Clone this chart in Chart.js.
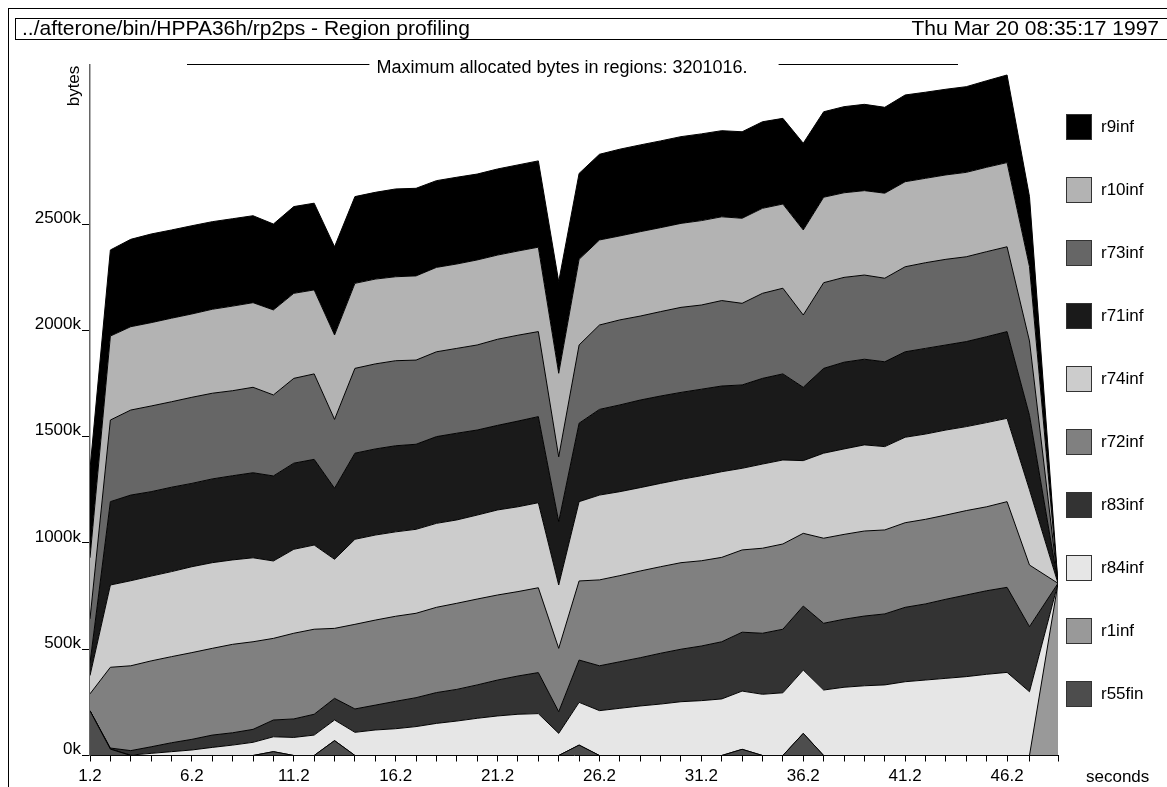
<!DOCTYPE html>
<html>
<head>
<meta charset="utf-8">
<title>rp2ps - Region profiling</title>
<script src="https://cdn.jsdelivr.net/npm/chart.js@4/dist/chart.umd.min.js"></script>
<style>
    html, body { margin: 0; padding: 0; background: #ffffff; }
    #chart { display: block; }
</style>
</head>
<body>
<canvas id="chart" width="1167" height="787"></canvas>
<script>
const JOB_TITLE = '../afterone/bin/HPPA36h/rp2ps - Region profiling';
const JOB_DATE = 'Thu Mar 20 08:35:17 1997';
const MAX_BYTES = 3201016;

// sample times (seconds)
const sampleTimes = [1.2, 2.2, 3.2, 4.2, 5.2, 6.2, 7.2, 8.2, 9.2, 10.2, 11.2, 12.2, 13.2, 14.2, 15.2, 16.2,
    17.2, 18.2, 19.2, 20.2, 21.2, 22.2, 23.2, 24.2, 25.2, 26.2, 27.2, 28.2, 29.2, 30.2, 31.2, 32.2,
    33.2, 34.2, 35.2, 36.2, 37.2, 38.2, 39.2, 40.2, 41.2, 42.2, 43.2, 44.2, 45.2, 46.2, 47.3, 48.7];

const xTickLabels = [1.2, 6.2, 11.2, 16.2, 21.2, 26.2, 31.2, 36.2, 41.2, 46.2];
const yTickValues = [0, 500, 1000, 1500, 2000, 2500];   // kbytes

// allocated kbytes per region at every sample
const r55fin = [210, 30, 0, 0, 0, 0, 0, 0, 0, 18, 0, 0, 70, 0, 0, 0, 0, 0, 0, 0, 0, 0, 0, 0,
    49, 0, 0, 0, 0, 0, 0, 0, 29, 0, 0, 104, 0, 0, 0, 0, 0, 0, 0, 0, 0, 0, 0, 0];
const r1inf = [0, 0, 0, 0, 0, 0, 0, 0, 0, 0, 0, 0, 0, 0, 0, 0, 0, 0, 0, 0, 0, 0, 0, 0,
    0, 0, 0, 0, 0, 0, 0, 0, 0, 0, 0, 0, 0, 0, 0, 0, 0, 0, 0, 0, 0, 0, 0, 810];
const r84inf = [0, 0, 2, 10, 18, 26, 38, 49, 62, 70, 85, 96, 97, 109, 120, 126, 136, 151, 162, 175, 186, 194, 197, 104,
    201, 211, 222, 233, 242, 253, 258, 266, 274, 288, 295, 298, 308, 321, 328, 332, 347, 355, 363, 371, 382, 391, 300, 0];
const r83inf = [0, 5, 21, 31, 42, 50, 58, 58, 61, 79, 87, 98, 102, 110, 117, 129, 136, 145, 149, 157, 169, 180, 193, 102,
    199, 211, 219, 227, 239, 247, 257, 269, 277, 287, 299, 301, 314, 320, 328, 334, 350, 358, 372, 384, 393, 400, 306, 0];
const r72inf = [80, 380, 399, 404, 405, 408, 408, 416, 412, 384, 403, 400, 329, 398, 400, 400, 397, 401, 405, 404, 400, 397, 399, 298,
    372, 404, 405, 408, 407, 407, 401, 397, 387, 400, 401, 342, 400, 399, 400, 395, 398, 398, 396, 397, 395, 403, 290, 0];
const r74inf = [86, 387, 400, 399, 400, 404, 403, 397, 395, 364, 395, 396, 325, 400, 400, 397, 395, 395, 392, 395, 400, 399, 400, 298,
    373, 399, 395, 392, 392, 392, 400, 403, 384, 396, 395, 342, 400, 402, 405, 392, 402, 401, 400, 395, 396, 392, 354, 0];
const r71inf = [59, 392, 403, 397, 397, 392, 394, 396, 400, 400, 405, 403, 334, 405, 405, 405, 400, 408, 408, 400, 398, 403, 405, 298,
    369, 403, 408, 412, 411, 409, 407, 403, 392, 403, 405, 345, 399, 408, 403, 399, 402, 403, 400, 400, 404, 408, 350, 0];
const r73inf = [208, 384, 400, 403, 402, 405, 403, 400, 402, 381, 399, 402, 324, 399, 400, 400, 396, 399, 399, 400, 405, 404, 400, 305,
    368, 397, 400, 395, 397, 400, 396, 402, 384, 400, 403, 340, 403, 399, 396, 393, 400, 403, 403, 399, 400, 399, 350, 0];
const r10inf = [287, 395, 392, 392, 393, 392, 395, 398, 398, 400, 400, 395, 397, 400, 399, 395, 396, 397, 397, 400, 396, 396, 397, 393,
    403, 400, 395, 397, 395, 395, 397, 394, 400, 400, 396, 400, 402, 398, 397, 400, 400, 397, 397, 397, 397, 396, 350, 0];
const r9inf = [418, 405, 411, 417, 415, 415, 412, 411, 409, 404, 408, 408, 415, 408, 408, 413, 412, 408, 408, 404, 405, 405, 406, 431,
    404, 403, 408, 408, 408, 408, 408, 405, 407, 407, 403, 408, 402, 405, 406, 404, 408, 405, 403, 403, 407, 412, 329, 0];

// stacking order, bottom band first
const regionNames = ['r55fin', 'r1inf', 'r84inf', 'r83inf', 'r72inf', 'r74inf', 'r71inf', 'r73inf', 'r10inf', 'r9inf'];
const regionValues = [r55fin, r1inf, r84inf, r83inf, r72inf, r74inf, r71inf, r73inf, r10inf, r9inf];
const regionShades = ['#4d4d4d', '#999999', '#e6e6e6', '#333333', '#808080', '#cccccc', '#1a1a1a', '#666666', '#b3b3b3', '#000000'];

const FONT = '"Liberation Sans", Arial, Helvetica, sans-serif';

Chart.defaults.font.family = FONT;
Chart.defaults.font.size = 17;
Chart.defaults.color = '#000';

function toPoints(values) {
    return values.map((v, i) => ({ x: sampleTimes[i], y: v }));
}

const datasets = regionNames.map((name, i) => ({
    label: name,
    data: toPoints(regionValues[i]),
    backgroundColor: regionShades[i],
    borderColor: '#000',
    borderWidth: 1,
    fill: i === 0 ? 'origin' : '-1',
    pointRadius: 0,
    tension: 0,
}));

// page frame, header, axis titles and the key on the right
const decorations = {
    id: 'decorations',
    afterDraw(chart) {
        const ctx = chart.ctx;
        ctx.save();

        ctx.strokeStyle = '#000';
        ctx.lineWidth = 1;
        ctx.strokeRect(8.5, 8.5, 1170, 800);
        ctx.strokeRect(15.5, 18.5, 1170, 21);

        ctx.fillStyle = '#000';
        ctx.font = `21px ${FONT}`;
        ctx.textBaseline = 'alphabetic';
        ctx.textAlign = 'left';
        ctx.fillText(JOB_TITLE, 22, 35);
        ctx.textAlign = 'right';
        ctx.fillText(JOB_DATE, 1159, 35);

        // "Maximum allocated bytes" line with a rule either side
        ctx.font = `18px ${FONT}`;
        const sub = `Maximum allocated bytes in regions: ${MAX_BYTES}.`;
        const mid = 562;
        const w = ctx.measureText(sub).width;
        ctx.textAlign = 'center';
        ctx.textBaseline = 'middle';
        ctx.fillText(sub, mid, 68);
        ctx.beginPath();
        ctx.moveTo(187, 64.5);
        ctx.lineTo(mid - w / 2 - 7, 64.5);
        ctx.moveTo(mid + w / 2 + 31, 64.5);
        ctx.lineTo(958, 64.5);
        ctx.stroke();

        // axis titles
        ctx.font = `17px ${FONT}`;
        ctx.save();
        ctx.translate(74, 86);
        ctx.rotate(-Math.PI / 2);
        ctx.textAlign = 'center';
        ctx.textBaseline = 'middle';
        ctx.fillText('bytes', 0, 0);
        ctx.restore();
        ctx.textAlign = 'left';
        ctx.textBaseline = 'middle';
        ctx.fillText('seconds', 1086, 777);

        // key, top band first
        const boxLeft = 1066;
        const boxSize = 26;
        for (let k = 0; k < regionNames.length; k++) {
            const i = regionNames.length - 1 - k;
            const cy = 127 + k * 63;
            ctx.fillStyle = regionShades[i];
            ctx.fillRect(boxLeft, cy - boxSize / 2, boxSize, boxSize);
            ctx.strokeStyle = '#333';
            ctx.strokeRect(boxLeft + 0.5, cy - boxSize / 2 + 0.5, boxSize - 1, boxSize - 1);
            ctx.fillStyle = '#000';
            ctx.fillText(regionNames[i], 1101, cy);
        }

        ctx.restore();
    }
};

const chart = new Chart(document.getElementById('chart'), {
    type: 'line',
    data: { datasets: datasets },
    options: {
        responsive: false,
        animation: false,
        layout: {
            padding: { left: 0, top: 65, right: 109, bottom: 0 },
        },
        plugins: {
            legend: { display: false },
            title: { display: false },
            tooltip: { enabled: false },
        },
        scales: {
            x: {
                type: 'linear',
                min: sampleTimes[0],
                max: sampleTimes[sampleTimes.length - 1],
                afterBuildTicks: (axis) => {
                    axis.ticks = sampleTimes.map(t => ({ value: t }));
                },
                afterFit: (axis) => {
                    axis.height = 31.5;
                },
                ticks: {
                    autoSkip: false,
                    maxRotation: 0,
                    padding: 5,
                    callback: (value) => xTickLabels.includes(value) ? value.toFixed(1) : '',
                },
                grid: {
                    drawOnChartArea: false,
                    tickLength: 6,
                    tickColor: '#000',
                },
                border: { color: '#000', width: 1 },
            },
            y: {
                stacked: true,
                min: 0,
                max: 3248,
                afterBuildTicks: (axis) => {
                    axis.ticks = yTickValues.map(v => ({ value: v }));
                },
                afterFit: (axis) => {
                    axis.width = 90;
                },
                ticks: {
                    padding: 1,
                    labelOffset: -6,
                    callback: (value) => value + 'k',
                },
                grid: {
                    drawOnChartArea: false,
                    tickLength: 8,
                    tickColor: '#000',
                },
                border: { color: '#666', width: 1.5 },
            },
        },
    },
    plugins: [decorations],
});
</script>
</body>
</html>
